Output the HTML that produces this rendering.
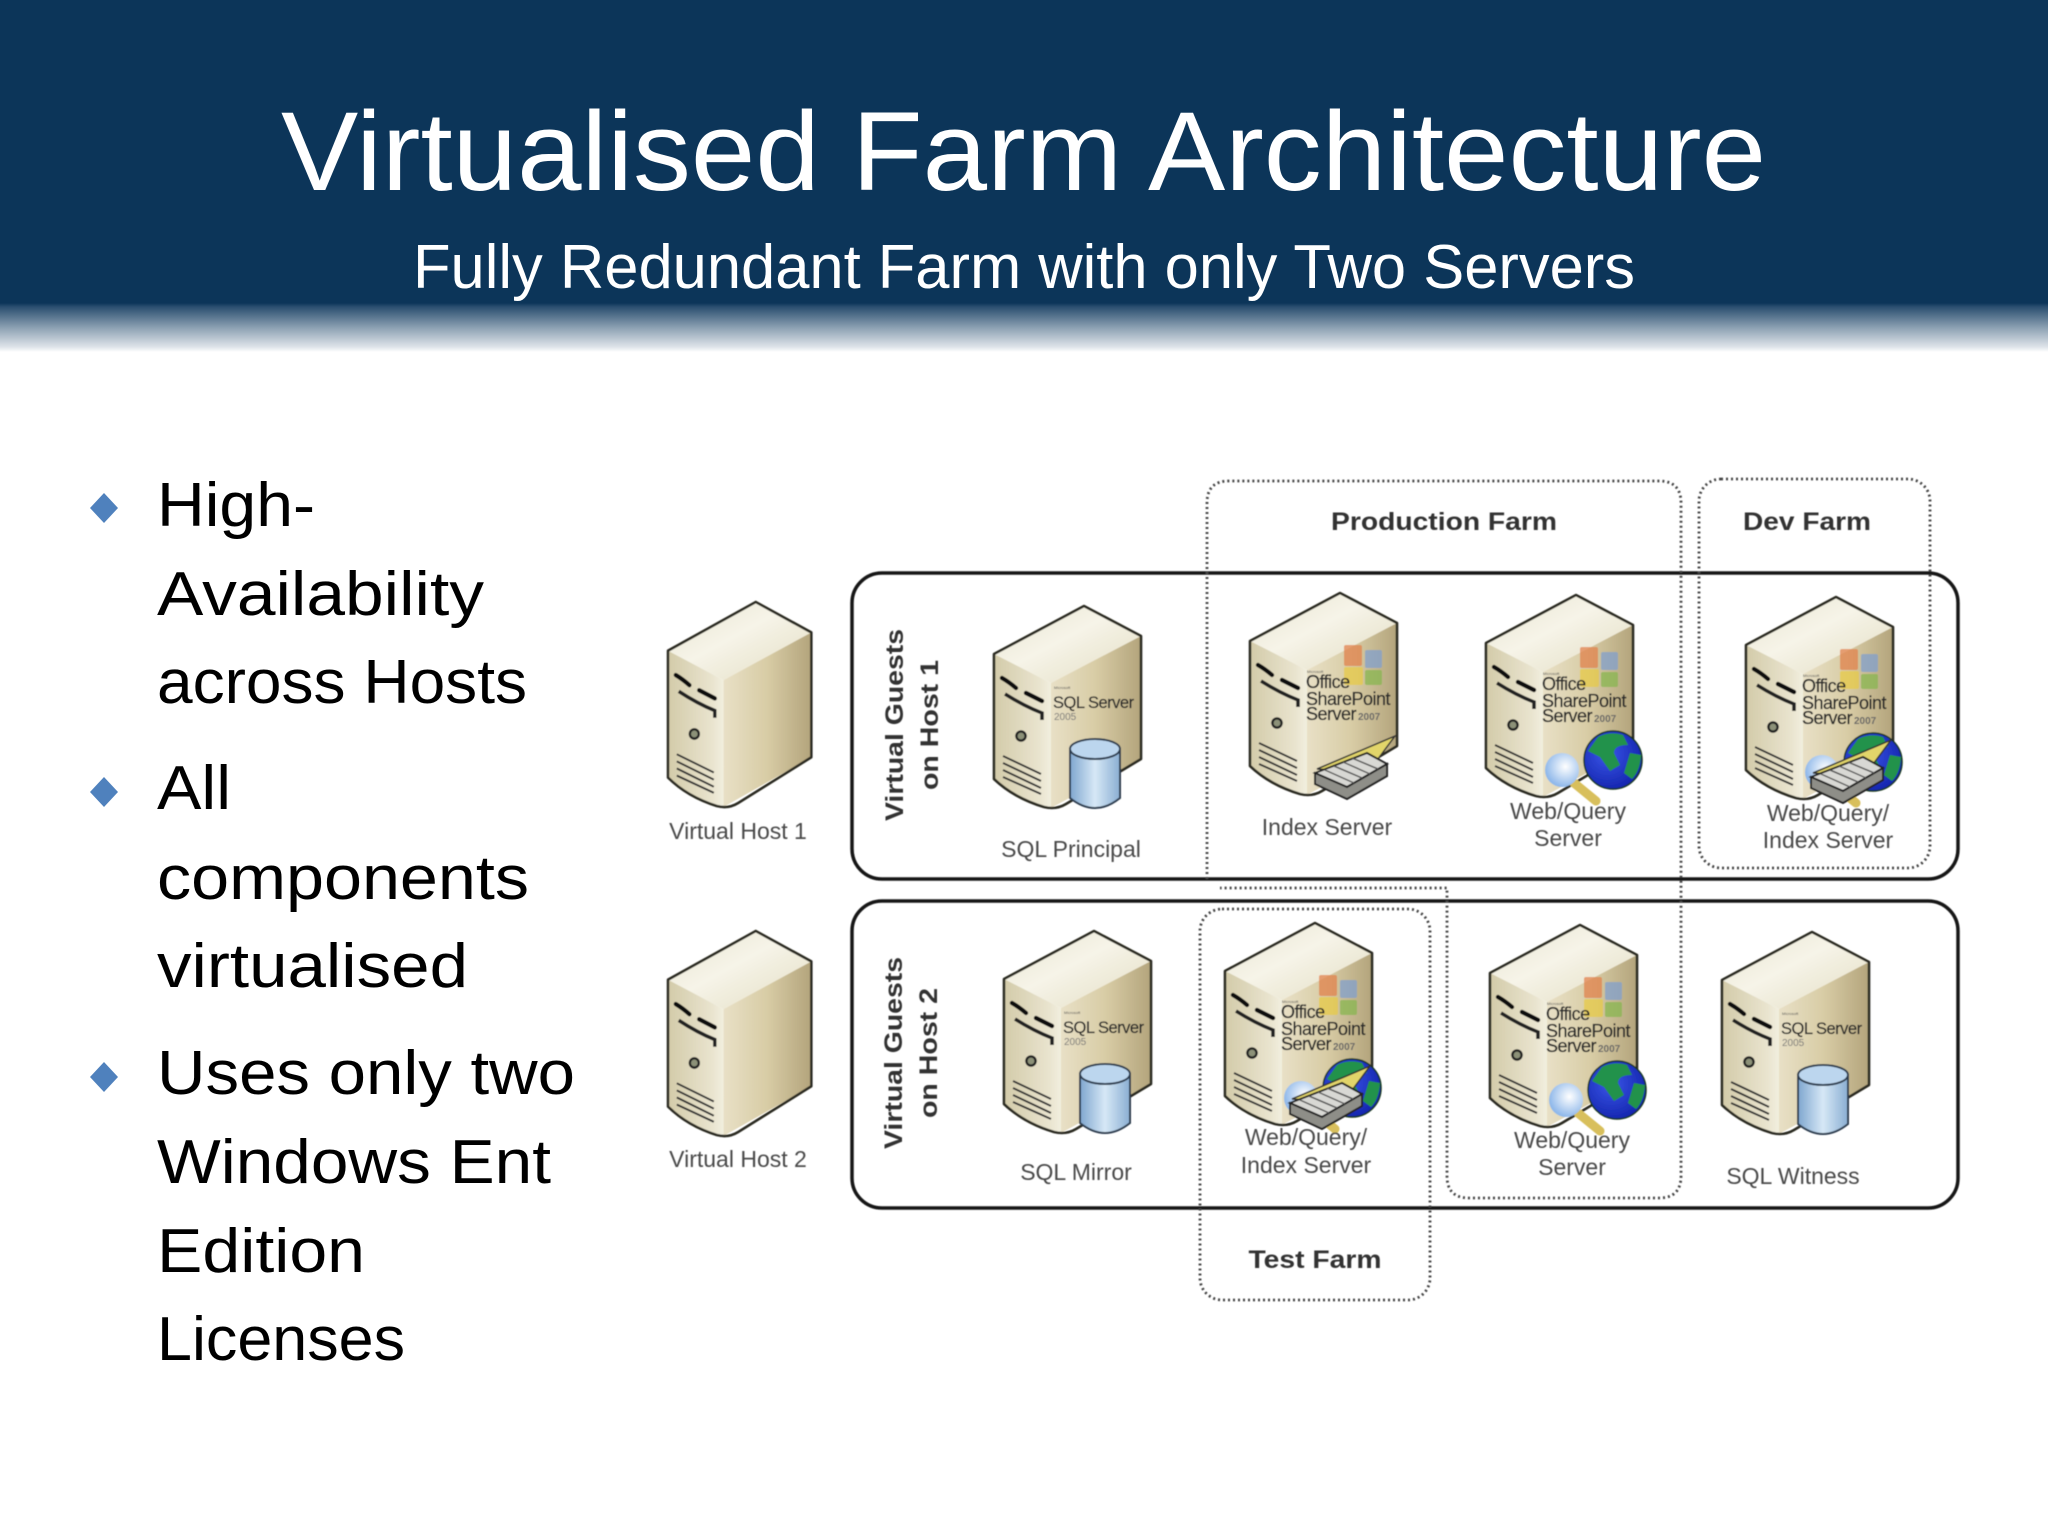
<!DOCTYPE html>
<html lang="en"><head><meta charset="utf-8"><title>Virtualised Farm Architecture</title>
<style>
html,body{margin:0;padding:0;background:#fff;width:2048px;height:1536px;overflow:hidden}
svg{display:block}
text{font-family:"Liberation Sans",sans-serif}
.b{fill:#000;font-size:62px}
.lbl{fill:#4a4a4a;font-size:23px;text-anchor:middle}
.ttl{fill:#333;font-size:25px;font-weight:bold;text-anchor:middle}
.vg{fill:#333;font-size:25px;font-weight:bold;text-anchor:middle}
.o{fill:#2a2a2a;font-size:18px;letter-spacing:-.5px;stroke:#2a2a2a;stroke-width:.3}
.o2{fill:#666;font-size:10px;font-weight:bold}
.tiny{fill:#555;font-size:4px}
.s{fill:#2a2a2a;font-size:16.5px;letter-spacing:-.5px;stroke:#2a2a2a;stroke-width:.25}
.s2{fill:#777;font-size:10px}
.dot{fill:none;stroke:#444;stroke-width:2.8;stroke-dasharray:2 3}
.box{fill:none;stroke:#151515;stroke-width:3.5}
</style></head><body>
<svg width="2048" height="1536" viewBox="0 0 2048 1536" xmlns="http://www.w3.org/2000/svg">
<defs>
<linearGradient id="hg" x1="0" y1="0" x2="0" y2="1"><stop offset="0" stop-color="#0c3559"/><stop offset=".08" stop-color="#2b4f70"/><stop offset=".5" stop-color="#8ba0b2"/><stop offset=".9" stop-color="#dfe4ea"/><stop offset="1" stop-color="#fff"/></linearGradient>
<linearGradient id="top" x1="0" y1="0" x2="1" y2="1"><stop offset="0" stop-color="#e9e5d0"/><stop offset=".45" stop-color="#f6f4e8"/><stop offset="1" stop-color="#e3dcc2"/></linearGradient>
<linearGradient id="lf" x1="0" y1="0" x2="1" y2="0"><stop offset="0" stop-color="#d3cba9"/><stop offset=".8" stop-color="#e9e4cf"/><stop offset="1" stop-color="#f2efdf"/></linearGradient>
<linearGradient id="rf" x1="0" y1="0" x2="1" y2="0"><stop offset="0" stop-color="#e8e0c6"/><stop offset=".5" stop-color="#d8cca5"/><stop offset="1" stop-color="#b3a47c"/></linearGradient>
<linearGradient id="cy" x1="0" y1="0" x2="1" y2="0"><stop offset="0" stop-color="#7fa6cf"/><stop offset=".5" stop-color="#d6e8f6"/><stop offset="1" stop-color="#8aaed2"/></linearGradient>
<radialGradient id="gl" cx=".4" cy=".4" r=".7"><stop offset="0" stop-color="#3a55e8"/><stop offset="1" stop-color="#1020a8"/></radialGradient>
<radialGradient id="mg" cx=".6" cy=".4" r=".6"><stop offset="0" stop-color="#fff"/><stop offset="1" stop-color="#8fb8ea"/></radialGradient>
<filter id="bl" x="-2%" y="-2%" width="104%" height="104%"><feGaussianBlur stdDeviation=".6"/></filter>

<g id="srv">
<path d="M0,48 L90,0 L147,30 L57,77Z" fill="url(#top)"/>
<path d="M0,48 L57,77 V202 Q20,192 0,173Z" fill="url(#lf)"/>
<path d="M57,77 L147,30 V153 L57,202Z" fill="url(#rf)"/>
<path d="M0,48 L90,0 L147,30 V153 L72,198 Q62,204 50,201 Q20,192 0,173Z" fill="none" stroke="#2c2a20" stroke-width="2.6" stroke-linejoin="round"/>
<path d="M8,72 Q15,76 22,82 M32,87 L48,95" stroke="#111" stroke-width="4.4" fill="none" stroke-linecap="round"/>
<path d="M11,88 Q30,100 48,107 V114" stroke="#222" stroke-width="3.6" fill="none"/>
<circle cx="27" cy="130" r="4.6" fill="#8c9178" stroke="#222" stroke-width="2.4"/>
<path d="M9,150 L47,168 M9,157 L47,175 M9,164 L47,182 M9,171 L47,188" stroke="#333" stroke-width="2" fill="none"/>
</g>
<g id="logo" opacity=".72">
<rect x="94" y="52" width="18" height="21" rx="2" fill="#e2804a"/><rect x="115" y="57" width="17" height="18" rx="2" fill="#7f9fcf"/><rect x="94" y="74" width="19" height="18" rx="2" fill="#e8cb45"/><rect x="115" y="77" width="17" height="15" rx="2" fill="#86b64e"/>
</g>
<g id="cyl"><path d="M76,143 V192 Q101,212 126,192 V143Z" fill="url(#cy)" stroke="#2d3d50" stroke-width="2"/><ellipse cx="101" cy="143" rx="25" ry="10" fill="#bcd6ee" stroke="#2d3d50" stroke-width="2"/></g>
<g id="dev"><path d="M67,176 L145,143 L128,166 L95,178Z" fill="#e2d56a" stroke="#333" stroke-width="1.5"/><path d="M65,180 L117,160 L137,171 L97,194Z" fill="#d8d8d4" stroke="#222" stroke-width="2"/><path d="M65,180 V191 L97,206 L137,183 V171 L97,194Z" fill="#8e8e88" stroke="#222" stroke-width="2"/><path d="M75,177 L104,190 M84,173 L112,185 M93,169 L120,181 M102,165 L128,176" stroke="#555" stroke-width="1.5"/></g>
<g id="glob"><path d="M88,188 L110,206" stroke="#d8bf5c" stroke-width="9" stroke-linecap="round"/><circle cx="76" cy="175" r="17" fill="url(#mg)"/><circle cx="127" cy="165" r="29" fill="url(#gl)" stroke="#15351a" stroke-width="1.5"/><path d="M112,142 Q124,136 137,140 L142,150 Q128,150 128,158 L134,170 L124,176 L114,162 L102,156 Z M144,158 L155,160 Q154,176 146,184 L138,178Z" fill="#22924c"/></g>
</defs>

<rect x="0" y="0" width="2048" height="303" fill="#0c3559"/>
<rect x="0" y="303" width="2048" height="49" fill="url(#hg)"/>
<text x="281" y="190" font-size="112" fill="#fff" textLength="1485" lengthAdjust="spacingAndGlyphs">Virtualised Farm Architecture</text>
<text x="413" y="288" font-size="62" fill="#fff" textLength="1222" lengthAdjust="spacingAndGlyphs">Fully Redundant Farm with only Two Servers</text>

<path d="M104,493 L118,508 L104,523 L90,508Z M104,777 L118,792 L104,807 L90,792Z M104,1062 L118,1077 L104,1092 L90,1077Z" fill="#4f81bd"/>
<text class="b" x="157" y="526" textLength="158" lengthAdjust="spacingAndGlyphs">High-</text>
<text class="b" x="157" y="615" textLength="327" lengthAdjust="spacingAndGlyphs">Availability</text>
<text class="b" x="157" y="703" textLength="370" lengthAdjust="spacingAndGlyphs">across Hosts</text>
<text class="b" x="157" y="809" textLength="74" lengthAdjust="spacingAndGlyphs">All</text>
<text class="b" x="157" y="899" textLength="372" lengthAdjust="spacingAndGlyphs">components</text>
<text class="b" x="157" y="987" textLength="311" lengthAdjust="spacingAndGlyphs">virtualised</text>
<text class="b" x="157" y="1094" textLength="418" lengthAdjust="spacingAndGlyphs">Uses only two</text>
<text class="b" x="157" y="1183" textLength="394" lengthAdjust="spacingAndGlyphs">Windows Ent</text>
<text class="b" x="157" y="1272" textLength="208" lengthAdjust="spacingAndGlyphs">Edition</text>
<text class="b" x="157" y="1360" textLength="248" lengthAdjust="spacingAndGlyphs">Licenses</text>

<g filter="url(#bl)">
<rect class="box" x="852" y="573" width="1106" height="306" rx="30"/>
<rect class="box" x="852" y="901" width="1106" height="307" rx="30"/>

<path class="dot" d="M1207,879 V503 Q1207,481 1229,481 H1659 Q1681,481 1681,503 V1176 Q1681,1198 1659,1198 H1469 Q1447,1198 1447,1176 V888 H1220"/>
<rect class="dot" x="1699" y="479" width="231" height="389" rx="22"/>
<rect class="dot" x="1200" y="909" width="230" height="391" rx="22"/>

<text class="ttl" x="1444" y="530" textLength="226" lengthAdjust="spacingAndGlyphs">Production Farm</text>
<text class="ttl" x="1807" y="530" textLength="128" lengthAdjust="spacingAndGlyphs">Dev Farm</text>
<text class="ttl" x="1315" y="1268" textLength="133" lengthAdjust="spacingAndGlyphs">Test Farm</text>

<text class="vg" transform="translate(903,725) rotate(-90)" textLength="192" lengthAdjust="spacingAndGlyphs">Virtual Guests</text>
<text class="vg" transform="translate(938,725) rotate(-90)" textLength="130" lengthAdjust="spacingAndGlyphs">on Host 1</text>
<text class="vg" transform="translate(902,1053) rotate(-90)" textLength="192" lengthAdjust="spacingAndGlyphs">Virtual Guests</text>
<text class="vg" transform="translate(937,1053) rotate(-90)" textLength="130" lengthAdjust="spacingAndGlyphs">on Host 2</text>

<g transform="translate(668,602) scale(.975,1.015)"><use href="#srv"/></g>
<g transform="translate(668,931) scale(.975,1.015)"><use href="#srv"/></g>

<g transform="translate(994,606)"><use href="#srv"/><text class="tiny" x="60" y="83">Microsoft</text><text class="s" x="59" y="102">SQL Server</text><text class="s2" x="60" y="114">2005</text><use href="#cyl"/></g>
<g transform="translate(1004,931)"><use href="#srv"/><text class="tiny" x="60" y="83">Microsoft</text><text class="s" x="59" y="102">SQL Server</text><text class="s2" x="60" y="114">2005</text><use href="#cyl"/></g>
<g transform="translate(1722,932)"><use href="#srv"/><text class="tiny" x="60" y="83">Microsoft</text><text class="s" x="59" y="102">SQL Server</text><text class="s2" x="60" y="114">2005</text><use href="#cyl"/></g>

<g transform="translate(1250,593)"><use href="#srv"/><use href="#logo"/><text class="tiny" x="57" y="80">Microsoft</text><text class="o" x="56" y="95">Office</text><text class="o" x="56" y="112">SharePoint</text><text class="o" x="56" y="127">Server</text><text class="o2" x="108" y="127">2007</text><use href="#dev"/></g>
<g transform="translate(1486,595)"><use href="#srv"/><use href="#logo"/><text class="tiny" x="57" y="80">Microsoft</text><text class="o" x="56" y="95">Office</text><text class="o" x="56" y="112">SharePoint</text><text class="o" x="56" y="127">Server</text><text class="o2" x="108" y="127">2007</text><use href="#glob"/></g>
<g transform="translate(1746,597)"><use href="#srv"/><use href="#logo"/><text class="tiny" x="57" y="80">Microsoft</text><text class="o" x="56" y="95">Office</text><text class="o" x="56" y="112">SharePoint</text><text class="o" x="56" y="127">Server</text><text class="o2" x="108" y="127">2007</text><use href="#glob"/><use href="#dev"/></g>
<g transform="translate(1225,923)"><use href="#srv"/><use href="#logo"/><text class="tiny" x="57" y="80">Microsoft</text><text class="o" x="56" y="95">Office</text><text class="o" x="56" y="112">SharePoint</text><text class="o" x="56" y="127">Server</text><text class="o2" x="108" y="127">2007</text><use href="#glob"/><use href="#dev"/></g>
<g transform="translate(1490,925)"><use href="#srv"/><use href="#logo"/><text class="tiny" x="57" y="80">Microsoft</text><text class="o" x="56" y="95">Office</text><text class="o" x="56" y="112">SharePoint</text><text class="o" x="56" y="127">Server</text><text class="o2" x="108" y="127">2007</text><use href="#glob"/></g>

<text class="lbl" x="738" y="839">Virtual Host 1</text>
<text class="lbl" x="738" y="1167">Virtual Host 2</text>
<text class="lbl" x="1071" y="857">SQL Principal</text>
<text class="lbl" x="1327" y="835">Index Server</text>
<text class="lbl" x="1568" y="819">Web/Query</text>
<text class="lbl" x="1568" y="846">Server</text>
<text class="lbl" x="1828" y="821">Web/Query/</text>
<text class="lbl" x="1828" y="848">Index Server</text>
<text class="lbl" x="1076" y="1180">SQL Mirror</text>
<text class="lbl" x="1306" y="1145">Web/Query/</text>
<text class="lbl" x="1306" y="1173">Index Server</text>
<text class="lbl" x="1572" y="1148">Web/Query</text>
<text class="lbl" x="1572" y="1175">Server</text>
<text class="lbl" x="1793" y="1184">SQL Witness</text>
</g>
</svg>
</body></html>
